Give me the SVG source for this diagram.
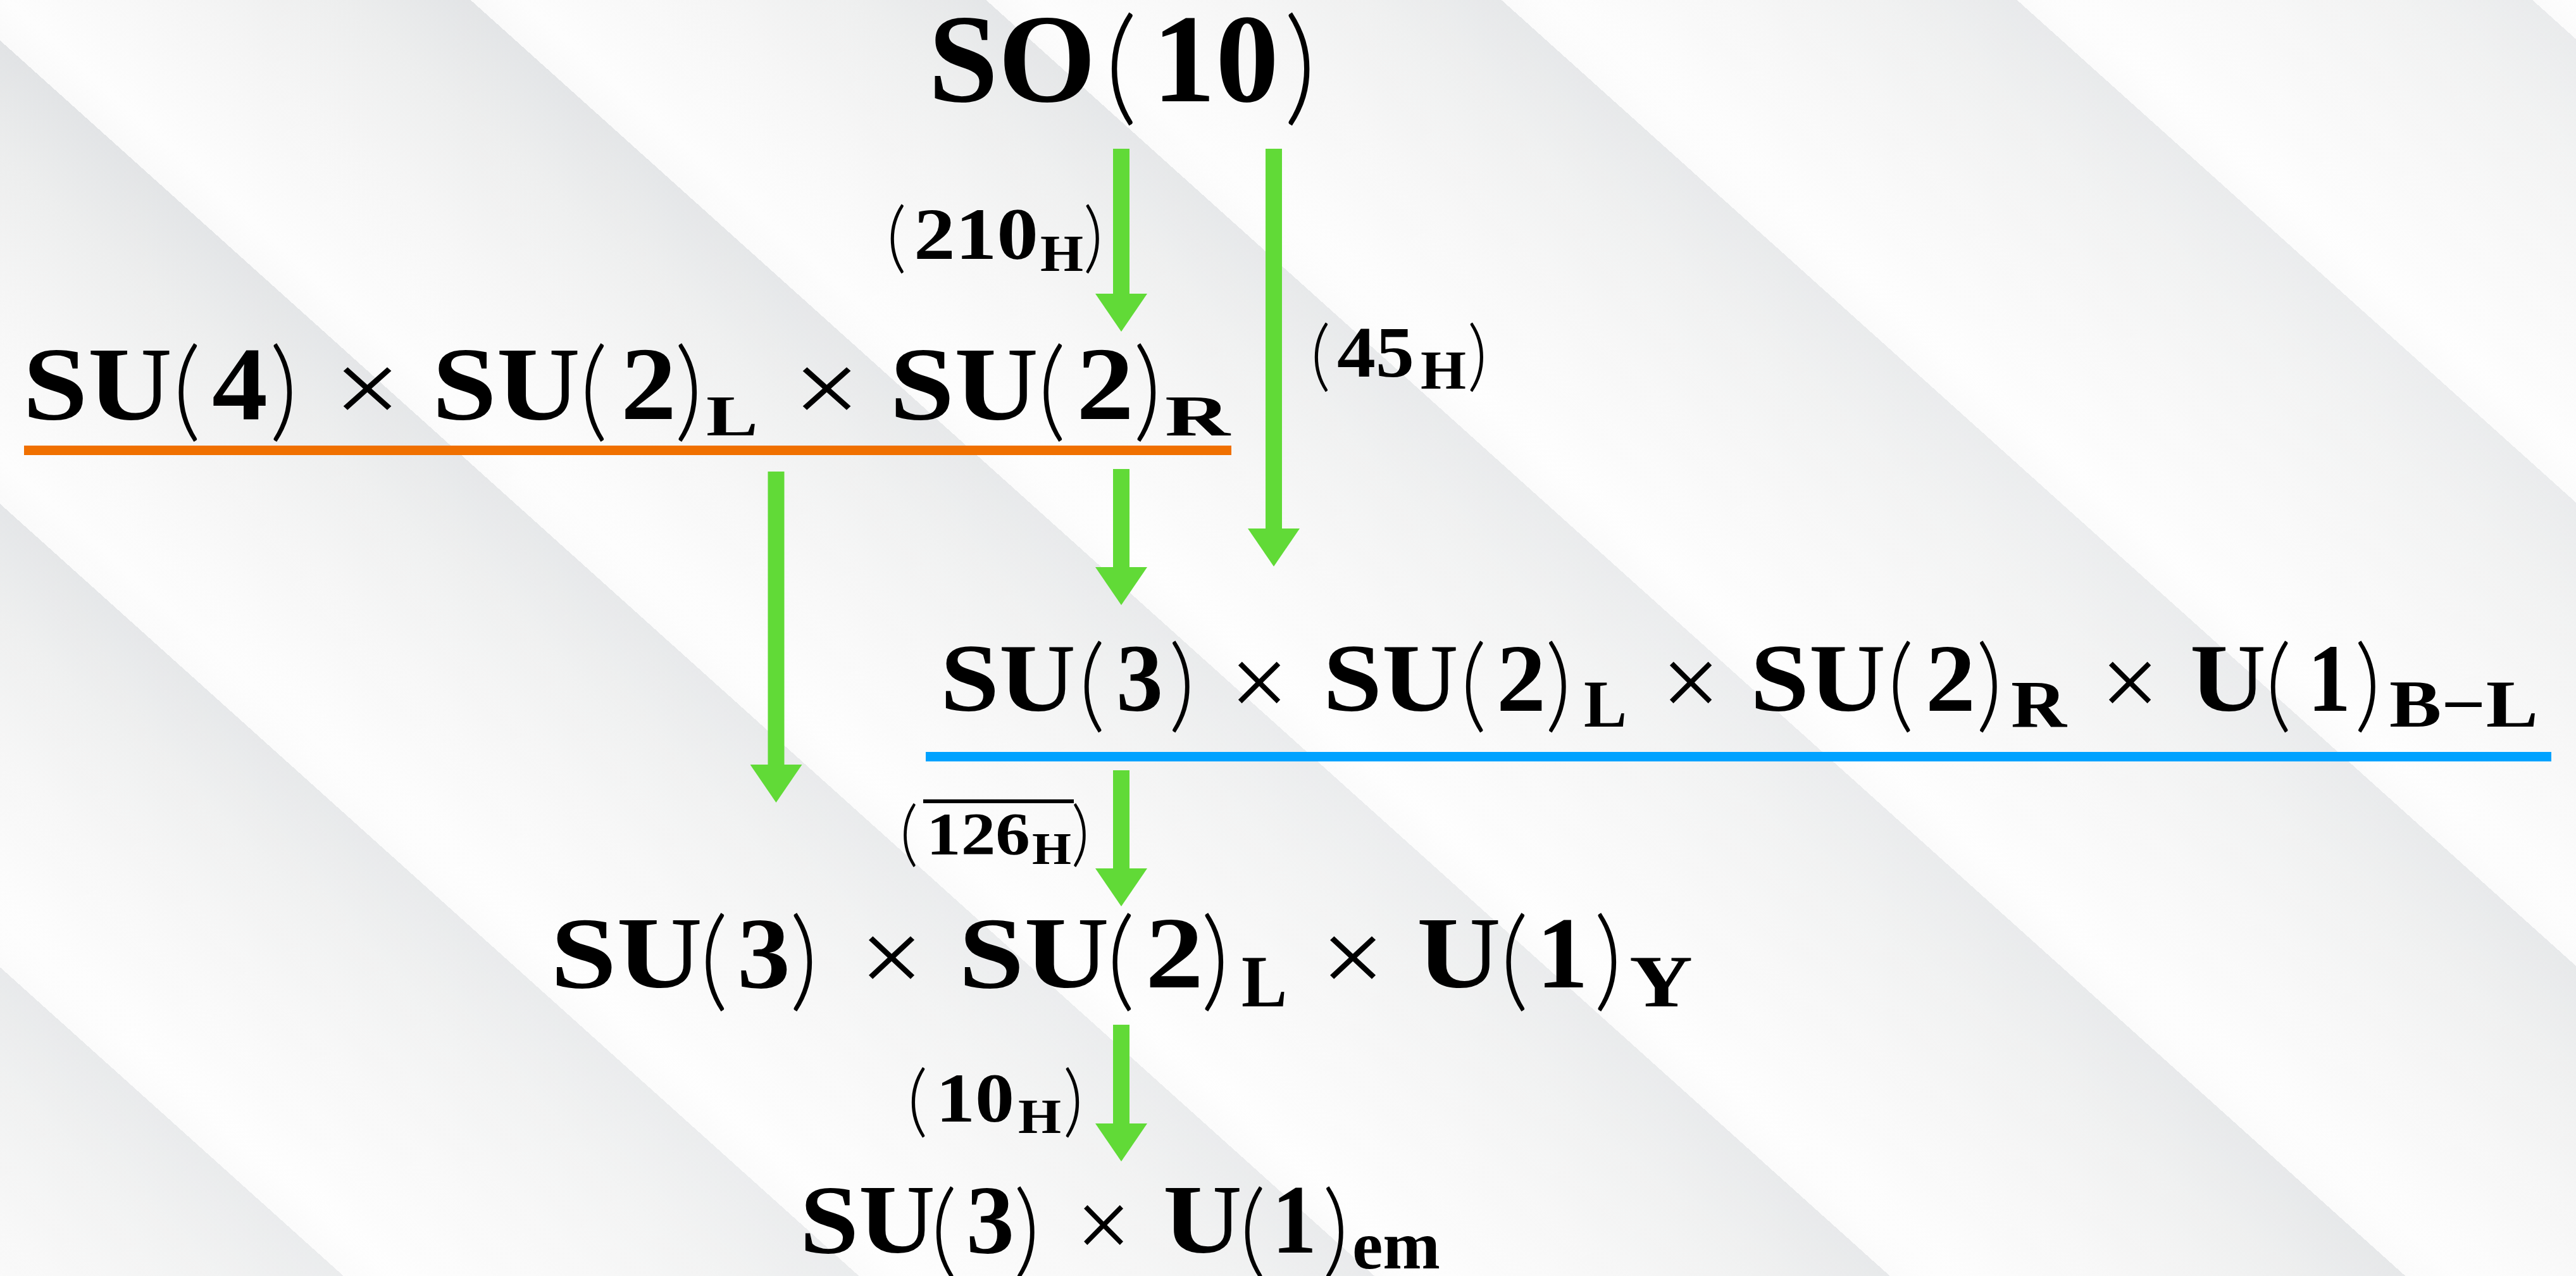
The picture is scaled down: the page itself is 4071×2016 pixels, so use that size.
<svg xmlns="http://www.w3.org/2000/svg" width="4071" height="2016" viewBox="0 0 4071 2016">
<defs>
<linearGradient id="stripes" gradientUnits="userSpaceOnUse" x1="-32" y1="35" x2="-396" y2="440" spreadMethod="repeat">
<stop offset="0" stop-color="#e1e3e5"/>
<stop offset="0.25" stop-color="#eceded"/>
<stop offset="0.55" stop-color="#f5f5f5"/>
<stop offset="0.9" stop-color="#fdfdfd"/>
<stop offset="1" stop-color="#fafafa"/>
</linearGradient>
<linearGradient id="wash" x1="0" y1="0" x2="1" y2="1">
<stop offset="0" stop-color="#ffffff" stop-opacity="0"/>
<stop offset="0.6" stop-color="#ffffff" stop-opacity="0.35"/>
<stop offset="1" stop-color="#ffffff" stop-opacity="0.15"/>
</linearGradient>
<marker id="ah" markerUnits="userSpaceOnUse" markerWidth="60" markerHeight="82" viewBox="0 0 60 82" refX="1" refY="41" orient="auto">
<path d="M0,0 L60,41 L0,82 Z" fill="#61DA37"/>
</marker>
<style>
text{font-family:"Liberation Serif","DejaVu Serif",serif;fill:#000}
.b{font-weight:bold}
.r{font-weight:normal}
.p{font-family:"Lato","Open Sans",sans-serif;font-weight:300}
.arrow{stroke:#61DA37;stroke-width:26;fill:none;marker-end:url(#ah)}
</style>
</defs>
<rect x="0" y="0" width="4071" height="2016" fill="url(#stripes)"/>
<rect x="0" y="0" width="4071" height="2016" fill="url(#wash)"/>

<g id="connectors">
<line class="arrow" x1="1772" y1="235" x2="1772" y2="465"/>
<line class="arrow" x1="2013" y1="235" x2="2013" y2="836"/>
<line class="arrow" x1="1772" y1="741" x2="1772" y2="897"/>
<line class="arrow" x1="1226.5" y1="745" x2="1226.5" y2="1209"/>
<line class="arrow" x1="1772" y1="1217" x2="1772" y2="1373"/>
<line class="arrow" x1="1772" y1="1619" x2="1772" y2="1776"/>
</g>

<g id="node-so10">
<text><tspan class="b" x="1467" y="160" font-size="200" textLength="265" lengthAdjust="spacingAndGlyphs">SO</tspan><tspan class="p" x="1746" y="172" font-size="199">(</tspan><tspan class="b" x="1821" y="160" font-size="200" textLength="200" lengthAdjust="spacingAndGlyphs">10</tspan><tspan class="p" x="2029" y="172" font-size="199">)</tspan></text>
</g>

<g id="node-su4-su2l-su2r">
<text><tspan class="b" x="36" y="662" font-size="165" textLength="236" lengthAdjust="spacingAndGlyphs">SU</tspan><tspan class="p" x="273" y="675" font-size="173">(</tspan><tspan class="b" x="335" y="662" font-size="165" textLength="88" lengthAdjust="spacingAndGlyphs">4</tspan><tspan class="p" x="426" y="675" font-size="173">)</tspan><tspan class="r" x="528" y="669" font-size="165" textLength="105" lengthAdjust="spacingAndGlyphs">×</tspan><tspan class="b" x="683" y="662" font-size="165" textLength="234" lengthAdjust="spacingAndGlyphs">SU</tspan><tspan class="p" x="916" y="675" font-size="173">(</tspan><tspan class="b" x="981" y="662" font-size="165" textLength="88" lengthAdjust="spacingAndGlyphs">2</tspan><tspan class="p" x="1066" y="675" font-size="173">)</tspan><tspan class="b" x="1116" y="688" font-size="92" textLength="82" lengthAdjust="spacingAndGlyphs">L</tspan><tspan class="r" x="1254" y="669" font-size="165" textLength="105" lengthAdjust="spacingAndGlyphs">×</tspan><tspan class="b" x="1406" y="662" font-size="165" textLength="235" lengthAdjust="spacingAndGlyphs">SU</tspan><tspan class="p" x="1640" y="675" font-size="173">(</tspan><tspan class="b" x="1701" y="662" font-size="165" textLength="91" lengthAdjust="spacingAndGlyphs">2</tspan><tspan class="p" x="1791" y="675" font-size="173">)</tspan><tspan class="b" x="1841" y="688" font-size="92" textLength="103" lengthAdjust="spacingAndGlyphs">R</tspan></text>
<rect x="38" y="704" width="1908" height="15" fill="#F07000"/>
</g>

<g id="node-su3-su2l-su2r-u1bl">
<text><tspan class="b" x="1486" y="1123" font-size="153" textLength="214" lengthAdjust="spacingAndGlyphs">SU</tspan><tspan class="p" x="1705" y="1136" font-size="161">(</tspan><tspan class="b" x="1764" y="1123" font-size="153" textLength="74" lengthAdjust="spacingAndGlyphs">3</tspan><tspan class="p" x="1847" y="1136" font-size="161">)</tspan><tspan class="r" x="1944" y="1132" font-size="160" textLength="92" lengthAdjust="spacingAndGlyphs">×</tspan><tspan class="b" x="2091" y="1123" font-size="153" textLength="214" lengthAdjust="spacingAndGlyphs">SU</tspan><tspan class="p" x="2308" y="1136" font-size="161">(</tspan><tspan class="b" x="2365" y="1123" font-size="153" textLength="78" lengthAdjust="spacingAndGlyphs">2</tspan><tspan class="p" x="2442" y="1136" font-size="161">)</tspan><tspan class="b" x="2503" y="1148" font-size="105" textLength="68" lengthAdjust="spacingAndGlyphs">L</tspan><tspan class="r" x="2626" y="1132" font-size="160" textLength="92" lengthAdjust="spacingAndGlyphs">×</tspan><tspan class="b" x="2766" y="1123" font-size="153" textLength="214" lengthAdjust="spacingAndGlyphs">SU</tspan><tspan class="p" x="2983" y="1136" font-size="161">(</tspan><tspan class="b" x="3043" y="1123" font-size="153" textLength="79" lengthAdjust="spacingAndGlyphs">2</tspan><tspan class="p" x="3123" y="1136" font-size="161">)</tspan><tspan class="b" x="3178" y="1148" font-size="105" textLength="88" lengthAdjust="spacingAndGlyphs">R</tspan><tspan class="r" x="3320" y="1132" font-size="160" textLength="92" lengthAdjust="spacingAndGlyphs">×</tspan><tspan class="b" x="3461" y="1123" font-size="153" textLength="120" lengthAdjust="spacingAndGlyphs">U</tspan><tspan class="p" x="3580" y="1136" font-size="161">(</tspan><tspan class="b" x="3647" y="1123" font-size="153" textLength="68" lengthAdjust="spacingAndGlyphs">1</tspan><tspan class="p" x="3721" y="1136" font-size="161">)</tspan><tspan class="b" x="3776" y="1148" font-size="105" textLength="235" lengthAdjust="spacingAndGlyphs">B−L</tspan></text>
<rect x="1463" y="1188" width="2569" height="15" fill="#00A2FF"/>
</g>

<g id="node-su3-su2l-u1y">
<text><tspan class="b" x="870" y="1560" font-size="162" textLength="240" lengthAdjust="spacingAndGlyphs">SU</tspan><tspan class="p" x="1106" y="1575" font-size="173">(</tspan><tspan class="b" x="1165" y="1560" font-size="162" textLength="84" lengthAdjust="spacingAndGlyphs">3</tspan><tspan class="p" x="1248" y="1575" font-size="173">)</tspan><tspan class="r" x="1359" y="1568" font-size="165" textLength="100" lengthAdjust="spacingAndGlyphs">×</tspan><tspan class="b" x="1515" y="1560" font-size="162" textLength="238" lengthAdjust="spacingAndGlyphs">SU</tspan><tspan class="p" x="1749" y="1575" font-size="173">(</tspan><tspan class="b" x="1810" y="1560" font-size="162" textLength="92" lengthAdjust="spacingAndGlyphs">2</tspan><tspan class="p" x="1898" y="1575" font-size="173">)</tspan><tspan class="b" x="1962" y="1590" font-size="116" textLength="72" lengthAdjust="spacingAndGlyphs">L</tspan><tspan class="r" x="2088" y="1568" font-size="165" textLength="100" lengthAdjust="spacingAndGlyphs">×</tspan><tspan class="b" x="2239" y="1560" font-size="162" textLength="133" lengthAdjust="spacingAndGlyphs">U</tspan><tspan class="p" x="2371" y="1575" font-size="173">(</tspan><tspan class="b" x="2428" y="1560" font-size="162" textLength="82" lengthAdjust="spacingAndGlyphs">1</tspan><tspan class="p" x="2519" y="1575" font-size="173">)</tspan><tspan class="b" x="2575" y="1590" font-size="116" textLength="100" lengthAdjust="spacingAndGlyphs">Y</tspan></text>
</g>

<g id="node-su3-u1em">
<text><tspan class="b" x="1264" y="1979" font-size="155" textLength="214" lengthAdjust="spacingAndGlyphs">SU</tspan><tspan class="p" x="1471" y="1998" font-size="161">(</tspan><tspan class="b" x="1527" y="1979" font-size="155" textLength="76" lengthAdjust="spacingAndGlyphs">3</tspan><tspan class="p" x="1602" y="1998" font-size="161">)</tspan><tspan class="r" x="1701" y="1987" font-size="155" textLength="86" lengthAdjust="spacingAndGlyphs">×</tspan><tspan class="b" x="1838" y="1979" font-size="155" textLength="125" lengthAdjust="spacingAndGlyphs">U</tspan><tspan class="p" x="1959" y="1998" font-size="161">(</tspan><tspan class="b" x="2010" y="1979" font-size="155" textLength="71" lengthAdjust="spacingAndGlyphs">1</tspan><tspan class="p" x="2090" y="1998" font-size="161">)</tspan><tspan class="b" x="2137" y="2004" font-size="107" textLength="139" lengthAdjust="spacingAndGlyphs">em</tspan></text>
</g>

<g id="label-210h">
<text><tspan class="p" x="1401" y="416" font-size="122">(</tspan><tspan class="b" x="1444" y="409" font-size="117" textLength="197" lengthAdjust="spacingAndGlyphs">210</tspan><tspan class="b" x="1644" y="428" font-size="83" textLength="68" lengthAdjust="spacingAndGlyphs">H</tspan><tspan class="p" x="1712" y="416" font-size="122">)</tspan></text>
</g>

<g id="label-45h">
<text><tspan class="p" x="2071" y="603" font-size="123">(</tspan><tspan class="b" x="2113" y="595" font-size="115" textLength="122" lengthAdjust="spacingAndGlyphs">45</tspan><tspan class="b" x="2245" y="614" font-size="86" textLength="72" lengthAdjust="spacingAndGlyphs">H</tspan><tspan class="p" x="2319" y="603" font-size="123">)</tspan></text>
</g>

<g id="label-126h">
<rect x="1459" y="1263" width="238" height="6" fill="#000"/>
<text><tspan class="p" x="1422" y="1355" font-size="112">(</tspan><tspan class="b" x="1464" y="1350" font-size="95" textLength="164" lengthAdjust="spacingAndGlyphs">126</tspan><tspan class="b" x="1631" y="1365" font-size="72" textLength="62" lengthAdjust="spacingAndGlyphs">H</tspan><tspan class="p" x="1693" y="1355" font-size="112">)</tspan></text>
</g>

<g id="label-10h">
<text><tspan class="p" x="1434" y="1781" font-size="124">(</tspan><tspan class="b" x="1479" y="1772" font-size="111" textLength="124" lengthAdjust="spacingAndGlyphs">10</tspan><tspan class="b" x="1609" y="1790" font-size="78" textLength="68" lengthAdjust="spacingAndGlyphs">H</tspan><tspan class="p" x="1680" y="1781" font-size="124">)</tspan></text>
</g>
</svg>
